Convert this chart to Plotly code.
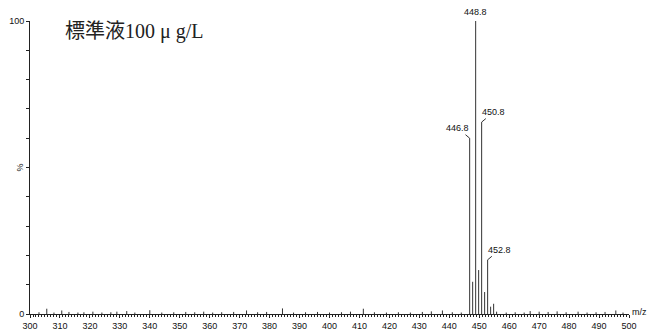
import plotly.graph_objects as go

# Main isotope cluster (m/z, relative intensity %)
peak_mz = [446.8, 447.8, 448.8, 449.8, 450.8, 451.8, 452.8, 453.8, 454.8]
peak_int = [60.0, 11.0, 100.0, 15.0, 65.5, 7.5, 18.5, 2.5, 3.5]

# Baseline noise sticks (m/z, relative intensity %)
noise_mz = [303.0, 305.6, 308.0, 310.6, 313.0, 316.0, 318.0, 321.0, 324.0, 327.0,
            329.0, 332.3, 335.0, 340.0, 344.0, 348.0, 352.0, 355.0, 358.0, 361.0,
            364.0, 368.0, 372.3, 376.0, 379.0, 384.3, 388.0, 392.0, 396.0, 400.0,
            404.0, 407.0, 411.3, 415.0, 419.0, 423.0, 427.0, 431.0, 434.0, 437.7,
            441.0, 444.0, 455.8, 459.0, 462.0, 465.0, 467.0, 470.0, 473.0, 476.0,
            479.0, 483.0, 486.0, 489.0, 492.0, 495.6, 498.0]
noise_int = [0.6, 1.8, 0.5, 1.2, 0.7, 0.5, 0.6, 0.8, 0.5, 0.6,
             0.8, 1.0, 0.5, 1.3, 0.5, 0.6, 0.7, 0.6, 0.8, 0.5,
             0.6, 0.7, 1.2, 0.6, 0.7, 1.9, 0.5, 0.6, 0.7, 0.5,
             0.6, 0.8, 1.8, 0.6, 0.5, 0.6, 0.5, 0.7, 0.9, 1.2,
             0.6, 0.5, 0.8, 0.5, 0.6, 0.5, 1.0, 0.8, 0.7, 0.9,
             0.6, 0.8, 0.5, 0.6, 0.7, 1.2, 0.5]

x_ticks = list(range(300, 501, 10))
title_text = "標準液100 μ g/L"


def sticks(xs, ys):
    sx, sy = [], []
    for x, y in zip(xs, ys):
        sx += [x, x, None]
        sy += [0, y, None]
    return sx, sy


fig = go.Figure()
nx, ny = sticks(noise_mz, noise_int)
fig.add_trace(go.Scatter(x=nx, y=ny, mode="lines",
                         line=dict(color="#333333", width=1), hoverinfo="skip"))
px_, py_ = sticks(peak_mz, peak_int)
fig.add_trace(go.Scatter(x=px_, y=py_, mode="lines",
                         line=dict(color="#333333", width=1), hoverinfo="skip"))

lab_font = dict(family="Arial, Liberation Sans, sans-serif", size=9, color="#111111")
intens = dict(zip(peak_mz, peak_int))
fig.add_annotation(x=448.8, y=intens[448.8], text="448.8", showarrow=False,
                   yanchor="bottom", yshift=2, font=lab_font)
fig.add_annotation(x=446.8, y=intens[446.8], text="446.8", showarrow=True,
                   arrowhead=0, arrowwidth=1, arrowcolor="#333333",
                   ax=-12, ay=-10, font=lab_font)
fig.add_annotation(x=450.8, y=intens[450.8], text="450.8", showarrow=True,
                   arrowhead=0, arrowwidth=1, arrowcolor="#333333",
                   ax=12, ay=-10, font=lab_font)
fig.add_annotation(x=452.8, y=intens[452.8], text="452.8", showarrow=True,
                   arrowhead=0, arrowwidth=1, arrowcolor="#333333",
                   ax=12, ay=-10, font=lab_font)

fig.add_annotation(xref="paper", yref="paper", x=0.055, y=0.965, xanchor="left",
                   yanchor="middle", text=title_text, showarrow=False,
                   font=dict(family="Liberation Serif, Noto Sans CJK JP, serif",
                             size=20, color="#222222"))
fig.add_annotation(xref="paper", yref="y", x=0, y=50, xanchor="right", xshift=-4,
                   text="%", textangle=-90, showarrow=False,
                   font=dict(family="Arial, Liberation Sans, sans-serif", size=9,
                             color="#111111"))
fig.add_annotation(xref="paper", yref="y", x=1, y=0, xanchor="right", xshift=19,
                   yanchor="middle", yshift=2, text="m/z", showarrow=False,
                   borderpad=0,
                   font=dict(family="Arial, Liberation Sans, sans-serif", size=9,
                             color="#111111"))

tick_font = dict(family="Arial, Liberation Sans, sans-serif", size=9, color="#111111")
fig.update_layout(
    width=649, height=331,
    margin=dict(l=30, r=20, t=21, b=17, autoexpand=False),
    plot_bgcolor="white", paper_bgcolor="white",
    showlegend=False,
    xaxis=dict(range=[300, 500], tickvals=x_ticks, ticktext=[str(v) for v in x_ticks],
               showgrid=False, zeroline=False, showline=True, linecolor="#222222",
               linewidth=1, ticks="outside", ticklen=3, tickcolor="#222222",
               tickfont=tick_font, automargin=False,
               minor=dict(dtick=1, ticks="outside", ticklen=2, tickcolor="#222222")),
    yaxis=dict(range=[0, 100], tickvals=list(range(0, 101, 10)),
               ticktext=["0"] + [""] * 9 + ["100"],
               showgrid=False, zeroline=False, showline=True, linecolor="#222222",
               linewidth=1, ticks="outside", ticklen=3, tickcolor="#222222",
               tickfont=tick_font, automargin=False),
)

# remove the page's default body margin so the figure fills the window exactly
fig.write_html("out.html",
               config={"displayModeBar": False, "staticPlot": True},
               post_script="document.body.style.margin='0';"
                           "document.body.style.overflow='hidden';")
